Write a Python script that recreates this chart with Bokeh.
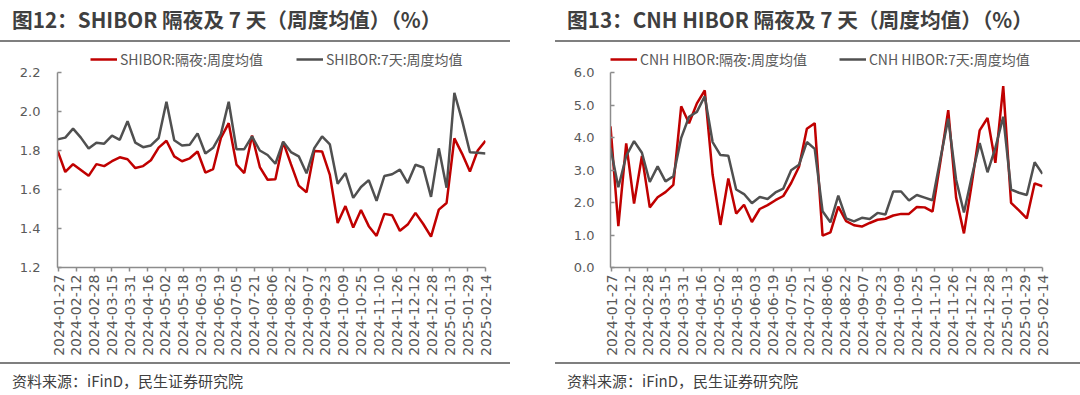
import math
import pandas as pd
from bokeh.plotting import figure
from bokeh.models import Range1d, FixedTicker, PrintfTickFormatter, Legend, LegendItem, Div
from bokeh.layouts import row, column
from bokeh.embed import file_html
from bokeh.resources import INLINE

# ---------------- data ----------------
dates = [
    "2024-01-26", "2024-02-02", "2024-02-09", "2024-02-16", "2024-02-23", "2024-03-01", "2024-03-08",
    "2024-03-15", "2024-03-22", "2024-03-29", "2024-04-05", "2024-04-12", "2024-04-19", "2024-04-26",
    "2024-05-03", "2024-05-10", "2024-05-17", "2024-05-24", "2024-05-31", "2024-06-07", "2024-06-14",
    "2024-06-21", "2024-06-28", "2024-07-05", "2024-07-12", "2024-07-19", "2024-07-26", "2024-08-02",
    "2024-08-09", "2024-08-16", "2024-08-23", "2024-08-30", "2024-09-06", "2024-09-13", "2024-09-20",
    "2024-09-27", "2024-10-04", "2024-10-11", "2024-10-18", "2024-10-25", "2024-11-01", "2024-11-08",
    "2024-11-15", "2024-11-22", "2024-11-29", "2024-12-06", "2024-12-13", "2024-12-20", "2024-12-27",
    "2025-01-03", "2025-01-10", "2025-01-17", "2025-01-24", "2025-01-31", "2025-02-07", "2025-02-14",
]

tick_labels = [
    "2024-01-27", "2024-02-12", "2024-02-28", "2024-03-15", "2024-03-31", "2024-04-16", "2024-05-02",
    "2024-05-18", "2024-06-03", "2024-06-19", "2024-07-05", "2024-07-21", "2024-08-06", "2024-08-22",
    "2024-09-07", "2024-09-23", "2024-10-09", "2024-10-25", "2024-11-10", "2024-11-26", "2024-12-12",
    "2024-12-28", "2025-01-13", "2025-01-29", "2025-02-14",
]

shibor_on = [1.80, 1.69, 1.73, 1.70, 1.67, 1.73, 1.72, 1.745, 1.765, 1.755, 1.71, 1.72, 1.75, 1.815,
             1.85, 1.77, 1.745, 1.76, 1.795, 1.687, 1.705, 1.864, 1.94, 1.728, 1.684, 1.877, 1.715,
             1.65, 1.652, 1.843, 1.73, 1.62, 1.586, 1.797, 1.795, 1.675, 1.428, 1.515, 1.405, 1.495,
             1.412, 1.362, 1.475, 1.468, 1.388, 1.42, 1.48, 1.423, 1.358, 1.497, 1.531, 1.862, 1.783,
             1.692, 1.80, 1.85]

shibor_7d = [1.857, 1.866, 1.912, 1.866, 1.81, 1.84, 1.835, 1.876, 1.855, 1.95, 1.84, 1.817, 1.826,
             1.864, 2.05, 1.853, 1.826, 1.83, 1.888, 1.785, 1.814, 1.884, 2.05, 1.806, 1.807, 1.872,
             1.80, 1.777, 1.732, 1.845, 1.792, 1.77, 1.683, 1.812, 1.872, 1.831, 1.629, 1.684, 1.557,
             1.613, 1.648, 1.542, 1.669, 1.678, 1.702, 1.633, 1.727, 1.713, 1.562, 1.811, 1.609,
             2.096, 1.953, 1.791, 1.788, 1.785]

cnh_on = [4.34, 1.27, 3.82, 1.97, 3.43, 1.85, 2.16, 2.32, 2.54, 4.96, 4.44, 5.05, 5.45, 2.86, 1.31,
          2.74, 1.66, 1.93, 1.40, 1.80, 1.92, 2.07, 2.20, 2.60, 3.10, 4.27, 4.44, 0.98, 1.08, 1.87,
          1.43, 1.30, 1.26, 1.37, 1.47, 1.50, 1.60, 1.65, 1.65, 1.86, 1.85, 1.72, 3.25, 4.84, 2.15,
          1.05, 2.58, 4.22, 4.60, 3.22, 5.58, 1.99, 1.76, 1.51, 2.59, 2.50]

cnh_7d = [3.68, 2.47, 3.43, 3.89, 3.53, 2.63, 3.11, 2.65, 2.81, 3.99, 4.64, 4.79, 5.27, 3.86, 3.46,
          3.44, 2.40, 2.26, 1.98, 2.17, 2.11, 2.31, 2.43, 2.99, 3.16, 3.86, 3.65, 1.73, 1.39, 2.21,
          1.51, 1.42, 1.53, 1.49, 1.68, 1.63, 2.34, 2.34, 2.06, 2.23, 2.15, 2.07, 3.35, 4.58, 2.70,
          1.69, 2.80, 3.83, 2.93, 3.68, 4.64, 2.40, 2.30, 2.23, 3.24, 2.88]

y_ticks_left = [1.2, 1.4, 1.6, 1.8, 2.0, 2.2]
y_ticks_right = [0.0, 1.0, 2.0, 3.0, 4.0, 5.0, 6.0]

titles = ["图12：SHIBOR 隔夜及 7 天（周度均值）（%）", "图13：CNH HIBOR 隔夜及 7 天（周度均值）（%）"]
legend_left = ["SHIBOR:隔夜:周度均值", "SHIBOR:7天:周度均值"]
legend_right = ["CNH HIBOR:隔夜:周度均值", "CNH HIBOR:7天:周度均值"]
source_text = "资料来源：iFinD，民生证券研究院"

# ---------------- styling / layout ----------------
RED = "#C00000"
GRAY = "#505050"
AXIS = "#8c8c8c"
TXT = "#595959"
CJK = "Noto Sans CJK SC"
FIG_H = 320          # figure spans page y 42..362
B_TOP = 8            # frame (incl. legend strip) starts at page y 50
B_BOTTOM = 95
FRAME_H = FIG_H - B_TOP - B_BOTTOM   # 217 px
DATA_H = 195         # pixel height of the data band (top tick .. bottom tick)
LEG_BOTTOM = 198     # legend bottom edge measured from frame bottom

base = pd.Timestamp(tick_labels[0])
xs = [(pd.Timestamp(d) - base).days for d in dates]
tick_pos = [(pd.Timestamp(t) - base).days for t in tick_labels]


def make_fig(y_ticks, s1, s2, names, b_left, b_right, leg_x, leg_spacing, y_standoff):
    frame_w = 540 - b_left - b_right
    y0, y1 = y_ticks[0], y_ticks[-1]
    y_top = y1 + (y1 - y0) * (FRAME_H - DATA_H) / DATA_H
    p = figure(frame_width=frame_w, frame_height=FRAME_H,
               x_range=Range1d(xs[0], xs[-1]),
               y_range=Range1d(y0, y_top),
               output_backend="svg", toolbar_location=None,
               min_border_left=b_left, min_border_right=b_right,
               min_border_top=B_TOP, min_border_bottom=B_BOTTOM)
    p.outline_line_color = None
    p.grid.visible = False
    p.background_fill_color = "white"
    r1 = p.line(xs, s1, line_color=RED, line_width=2.5)
    r2 = p.line(xs, s2, line_color=GRAY, line_width=2.5)
    legend = Legend(items=[LegendItem(label=names[0], renderers=[r1]),
                           LegendItem(label=names[1], renderers=[r2])],
                    orientation="horizontal", location=(leg_x, LEG_BOTTOM),
                    border_line_color=None, background_fill_alpha=0,
                    label_text_font_size="14px", label_text_font=CJK,
                    label_text_color=TXT, glyph_width=27, glyph_height=16,
                    label_height=16, label_standoff=3, spacing=leg_spacing,
                    padding=0, margin=0)
    p.add_layout(legend, "center")

    xa = p.xaxis[0]
    xa.ticker = FixedTicker(ticks=tick_pos)
    xa.major_label_overrides = {tp: lab for tp, lab in zip(tick_pos, tick_labels)}
    xa.major_label_orientation = math.pi / 2
    xa.major_label_text_font = "DejaVu Sans"
    xa.major_label_text_font_size = "14px"
    xa.major_label_text_color = TXT
    xa.major_label_standoff = 3
    xa.major_tick_in = 0
    xa.major_tick_out = 4
    xa.minor_tick_line_color = None
    xa.axis_line_color = AXIS
    xa.axis_line_width = 1.5
    xa.major_tick_line_color = AXIS
    xa.major_tick_line_width = 1.5

    ya = p.yaxis[0]
    ya.ticker = FixedTicker(ticks=y_ticks)
    ya.bounds = (y0, y1)
    ya.formatter = PrintfTickFormatter(format="%.1f")
    ya.major_label_text_font = "DejaVu Sans"
    ya.major_label_text_font_size = "13px"
    ya.major_label_text_color = TXT
    ya.major_label_standoff = y_standoff
    ya.major_tick_in = 4
    ya.major_tick_out = 0
    ya.minor_tick_line_color = None
    ya.axis_line_color = AXIS
    ya.axis_line_width = 1.5
    ya.major_tick_line_color = AXIS
    ya.major_tick_line_width = 1.5
    return p


def title_div(text, width, mleft, pleft):
    return Div(text=text, width=width, height=42, margin=(0, 0, 0, mleft),
               styles={"font-family": CJK, "font-size": "20.7px", "font-weight": "bold",
                       "color": "#3f3f3f", "border-bottom": "2px solid #7f7f7f",
                       "line-height": "38px", "padding-left": f"{pleft}px",
                       "box-sizing": "border-box", "white-space": "nowrap"})


def source_div(width, mleft, pleft):
    return Div(text=source_text, width=width, height=33, margin=(0, 0, 0, mleft),
               styles={"font-family": CJK, "font-size": "15px", "color": "#404040",
                       "border-top": "2px solid #7f7f7f", "line-height": "34px",
                       "padding-left": f"{pleft}px", "box-sizing": "border-box",
                       "white-space": "nowrap"})


p1 = make_fig(y_ticks_left, shibor_on, shibor_7d, legend_left, 57, 55, 33, 33, 17)
p2 = make_fig(y_ticks_right, cnh_on, cnh_7d, legend_right, 70, 38, 0, 32, 16)

left = column(title_div(titles[0], 510, 0, 12), p1, source_div(510, 0, 12), spacing=0)
right = column(title_div(titles[1], 525, 15, 12), p2, source_div(525, 15, 12), spacing=0)
layout = row(left, right, spacing=0)

open("out.html", "w").write(file_html(layout, INLINE))
